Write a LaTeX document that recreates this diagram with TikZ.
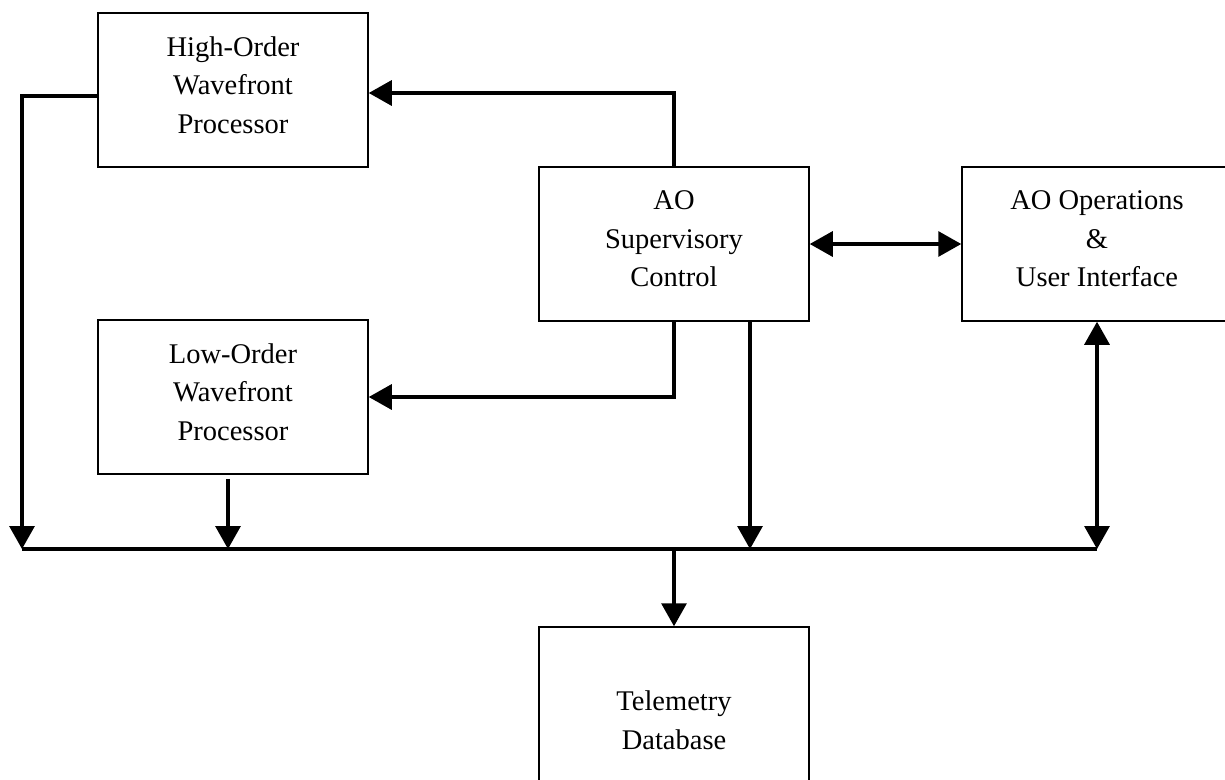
\documentclass[tikz,border=0pt]{standalone}
\usepackage{fontspec}
\setmainfont{Liberation Serif}
\usetikzlibrary{arrows.meta,calc}
\begin{document}
\begin{tikzpicture}[x=1pt,y=-1pt,
  box/.style={draw, line width=1.5pt, minimum width=270pt, minimum height=154pt, inner sep=0pt},
  txt/.style={align=center, inner sep=0pt, font=\fontsize{28.5}{38.5}\selectfont},
  conn/.style={line width=3.2pt},
  >={Triangle[width=25pt,length=23pt]}]
\useasboundingbox (0,0) rectangle (1225,779);
\fill[white] (0,0) rectangle (1225,779);
\clip (0,0) rectangle (1225,779);

% boxes
\node[box] (ho) at (233,90) {};
\node[txt] (hot) at ([yshift=5pt]ho.center) {High-Order\\Wavefront\\Processor};
\node[box] (lo) at (233,397) {};
\node[txt] (lot) at ([yshift=5pt]lo.center) {Low-Order\\Wavefront\\Processor};
\node[box] (sup) at (674,244) {};
\node[txt] (supt) at ([yshift=5pt]sup.center) {AO\\Supervisory\\Control};
\node[box] (ops) at (1097,244) {};
\node[txt] (opst) at ([yshift=5pt]ops.center) {AO Operations\\\&\\User Interface};
\node[box, minimum height=186pt] (tel) at (674,720) {};
\node[txt] (telt) at (tel.center) {Telemetry\\Database};

% bus
\coordinate (busL) at (22,549);
\coordinate (busR) at (1097,549);
\draw[conn] (busL) -- (busR);

% connectors
\draw[conn,->] (sup.north) |- ([yshift=-3pt]ho.east);
\draw[conn,->] (sup.south) |- (lo.east);
\draw[conn,<->] (sup.east) -- (ops.west);
\draw[conn,->] ([xshift=76pt]sup.south) -- ([xshift=76pt]sup.south |- busL);
\draw[conn,<->] (ops.south) -- (ops.south |- busL);
\draw[conn,->] ([xshift=-5pt,yshift=-4pt]lo.south) -- ([xshift=-5pt]lo.south |- busL);
\draw[conn,->] ([yshift=-6pt]ho.west) -| (busL);
\draw[conn,->] (tel.north |- busL) -- (tel.north);
\end{tikzpicture}
\end{document}
